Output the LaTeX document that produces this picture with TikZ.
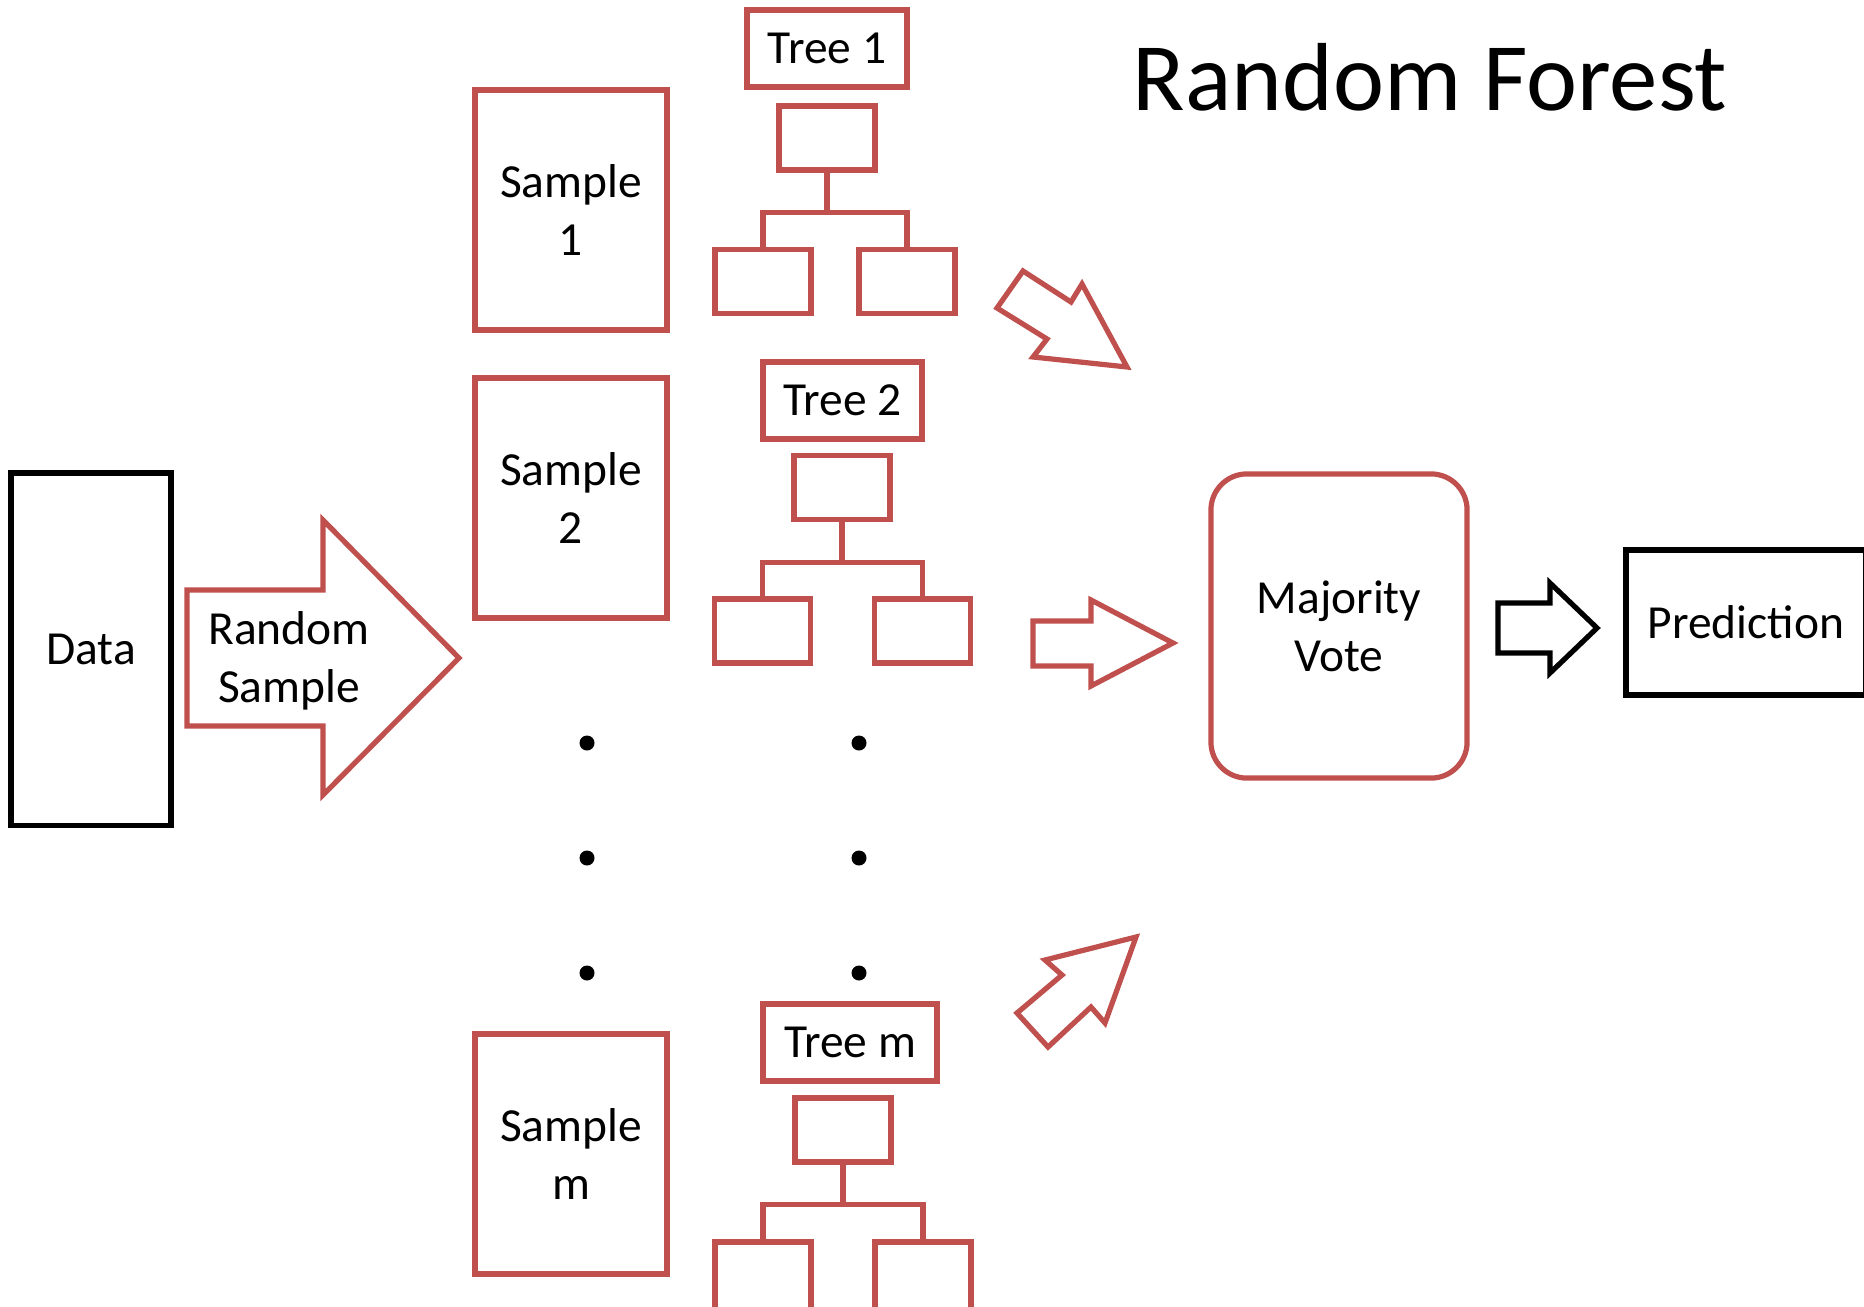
\documentclass[tikz,border=0pt]{standalone}
\usepackage{fontspec}
\setmainfont{Carlito}
\definecolor{accentred}{HTML}{C0504D}

\begin{document}
\begin{tikzpicture}[x=0.01cm, y=-0.01cm,
  bodyfont/.style={font=\fontsize{13.5}{16.5}\selectfont},
  redbox/.style={draw=accentred, line width=0.052cm, inner sep=0pt, align=center, bodyfont},
  blackbox/.style={draw=black, line width=0.052cm, inner sep=0pt, align=center, bodyfont},
  leaf/.style={redbox, minimum width=0.96cm, minimum height=0.64cm},
  samplebox/.style={redbox, minimum width=1.92cm, minimum height=2.40cm},
  treelabel/.style={redbox, minimum height=0.77cm},
  link/.style={draw=accentred, line width=0.052cm},
  redarrow/.style={draw=accentred, line width=0.052cm, fill=white},
  blackarrow/.style={draw=black, line width=0.052cm, fill=white},
  dot/.style={circle, fill=black, inner sep=0pt, minimum size=0.15cm}]

\useasboundingbox (0,0) rectangle (1864,1306);
\clip (0,0) rectangle (1864,1306);

% title
\node[font=\fontsize{27.5}{33}\selectfont, anchor=base] (title) at (1430,110.6) {Random Forest};

% input data
\node[blackbox, minimum width=1.60cm, minimum height=3.52cm] (data) at (91,649) {Data};

% sampling arrow
\draw[redarrow] (187,590) -- (323,590) -- (323,520) -- (459,658) -- (323,795)
  -- (323,726) -- (187,726) -- cycle;
\node[bodyfont, align=center] (rs) at (289,661) {Random\\Sample};

% samples
\node[samplebox] (s1) at (571,210) {Sample\\1};
\node[samplebox] (s2) at (571,498) {Sample\\2};
\node[samplebox] (sm) at (571,1154) {Sample\\m};

% tree 1
\node[treelabel, minimum width=1.60cm] (t1) at (827,48.5) {Tree 1};
\node[leaf] (r1) at (827,138) {};
\node[leaf] (a1) at (763,281.5) {};
\node[leaf] (b1) at (907,281.5) {};
\draw[link] (r1.south) -- ++(0,40) -| (a1.north);
\draw[link] (r1.south) -- ++(0,40) -| (b1.north);

% tree 2
\node[treelabel, minimum width=1.59cm] (t2) at (842.5,400.5) {Tree 2};
\node[leaf] (r2) at (842,487.5) {};
\node[leaf] (a2) at (762.5,631) {};
\node[leaf] (b2) at (922.5,631) {};
\draw[link] (r2.south) -- ++(0,40.5) -| (a2.north);
\draw[link] (r2.south) -- ++(0,40.5) -| (b2.north);

% tree m
\node[treelabel, minimum width=1.74cm] (tm) at (850,1042.5) {Tree m};
\node[leaf] (rm) at (843,1130) {};
\node[leaf, minimum height=0.70cm] (am) at (763,1277) {};
\node[leaf, minimum height=0.70cm] (bm) at (923,1277) {};
\draw[link] (rm.south) -- ++(0,40) -| (am.north);
\draw[link] (rm.south) -- ++(0,40) -| (bm.north);

% ellipsis dots
\foreach \i/\yy in {1/743, 2/858, 3/973} {
  \node[dot] (ds\i) at (587,\yy) {};
  \node[dot] (dt\i) at (859,\yy) {};
}

% arrows into the vote
\draw[redarrow] (1023,271) -- (1071,302) -- (1082,284) -- (1127,367) -- (1033,357)
  -- (1047,339) -- (997,308) -- cycle;
\draw[redarrow] (1033,621) -- (1091,621) -- (1091,600) -- (1173,643) -- (1091,686)
  -- (1091,666) -- (1033,666) -- cycle;
\draw[redarrow] (1136,937) -- (1045,960) -- (1062,975) -- (1017,1013) -- (1048,1047)
  -- (1091,1007) -- (1105,1023) -- cycle;

% majority vote
\node[redbox, rounded corners=0.36cm, minimum width=2.56cm, minimum height=3.04cm] (vote) at (1339,626) {Majority\\Vote};

% result
\draw[blackarrow] (1498,603) -- (1550,603) -- (1550,583) -- (1597,628) -- (1550,673)
  -- (1550,653) -- (1498,653) -- cycle;
\node[blackbox, minimum width=2.40cm, minimum height=1.45cm] (pred) at (1746,622.5) {Prediction};

\end{tikzpicture}
\end{document}
